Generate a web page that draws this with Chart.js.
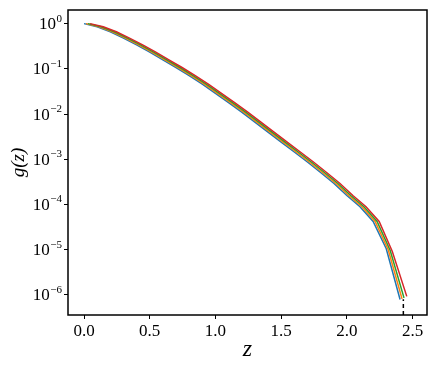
<!DOCTYPE html>
<html>
<head>
<meta charset="utf-8">
<script src="https://cdn.jsdelivr.net/npm/chart.js@4/dist/chart.umd.min.js"></script>
<style>
  html, body { margin: 0; padding: 0; background: #fff; }
  #wrap { width: 436px; height: 368px; }
</style>
</head>
<body>
<div id="wrap"><canvas id="chart" width="436" height="368"></canvas></div>
<script>
// z positions of each run
const zBlue   = [0.0, 0.1, 0.2, 0.3, 0.4, 0.5, 0.6, 0.7, 0.8, 0.9, 1.0, 1.1, 1.2, 1.3, 1.4, 1.5, 1.6, 1.7, 1.8, 1.9, 2.0, 2.1, 2.2, 2.3, 2.405];
const zOrange = [0.015, 0.115, 0.215, 0.315, 0.415, 0.515, 0.615, 0.715, 0.815, 0.915, 1.015, 1.115, 1.215, 1.315, 1.415, 1.515, 1.615, 1.715, 1.815, 1.915, 2.015, 2.115, 2.215, 2.315, 2.42];
const zGreen  = [0.03, 0.13, 0.23, 0.33, 0.43, 0.53, 0.63, 0.73, 0.83, 0.93, 1.03, 1.13, 1.23, 1.33, 1.43, 1.53, 1.63, 1.73, 1.83, 1.93, 2.03, 2.13, 2.23, 2.33, 2.435];
const zRed    = [0.046, 0.146, 0.246, 0.346, 0.446, 0.546, 0.646, 0.746, 0.846, 0.946, 1.046, 1.146, 1.246, 1.346, 1.446, 1.546, 1.646, 1.746, 1.846, 1.946, 2.046, 2.146, 2.246, 2.346, 2.456];

// g(z) values
const gBlue   = [1.0, 0.851, 0.661, 0.479, 0.339, 0.234, 0.158, 0.107, 0.0708, 0.0457, 0.0288, 0.0178, 0.0110, 6.6e-3, 3.98e-3, 2.4e-3, 1.45e-3, 8.7e-4, 5.1e-4, 2.95e-4, 1.58e-4, 8.9e-5, 4.2e-5, 1.05e-5, 7.9e-7];
const gOrange = [1.0, 0.851, 0.661, 0.479, 0.339, 0.234, 0.158, 0.107, 0.0708, 0.0457, 0.0288, 0.0178, 0.0110, 6.6e-3, 3.98e-3, 2.4e-3, 1.45e-3, 8.7e-4, 5.1e-4, 2.95e-4, 1.58e-4, 8.9e-5, 4.2e-5, 1.0e-5, 8.2e-7];
const gGreen  = [1.0, 0.851, 0.661, 0.479, 0.339, 0.234, 0.158, 0.107, 0.0708, 0.0457, 0.0288, 0.0178, 0.0110, 6.6e-3, 3.98e-3, 2.4e-3, 1.45e-3, 8.7e-4, 5.1e-4, 2.95e-4, 1.58e-4, 8.9e-5, 4.2e-5, 9.6e-6, 8.6e-7];
const gRed    = [1.0, 0.851, 0.661, 0.479, 0.339, 0.234, 0.158, 0.107, 0.0708, 0.0457, 0.0288, 0.0178, 0.0110, 6.6e-3, 3.98e-3, 2.4e-3, 1.45e-3, 8.7e-4, 5.1e-4, 2.95e-4, 1.58e-4, 8.9e-5, 4.2e-5, 9.1e-6, 9.3e-7];

// dashed cutoff marker
const zCut = [2.43, 2.43];
const gCut = [3.6e-7, 8.0e-7];

const xTicks = [0.0, 0.5, 1.0, 1.5, 2.0, 2.5];
const yTicks = [1e-6, 1e-5, 1e-4, 1e-3, 1e-2, 1e-1, 1e0];
const yTickExp = ['−6', '−5', '−4', '−3', '−2', '−1', '0'];

const pts = (xs, ys) => xs.map((x, i) => ({ x: x, y: ys[i] }));

const serif = "'Liberation Serif', 'DejaVu Serif', serif";

// black box round the plot area
const frame = {
    id: 'frame',
    afterDraw(chart) {
        const a = chart.chartArea;
        const c = chart.ctx;
        c.save();
        c.strokeStyle = '#000';
        c.lineWidth = 1.5;
        c.strokeRect(a.left, a.top, a.right - a.left, a.bottom - a.top);
        c.restore();
    }
};

// y tick labels as 10 with a raised exponent
const powLabels = {
    id: 'powLabels',
    afterDraw(chart) {
        const y = chart.scales.y;
        const c = chart.ctx;
        const right = chart.chartArea.left - 6;
        c.save();
        c.fillStyle = '#000';
        yTicks.forEach((v, i) => {
            const py = y.getPixelForValue(v);
            c.font = '11px ' + serif;
            c.textAlign = 'right';
            c.textBaseline = 'alphabetic';
            const w = c.measureText(yTickExp[i]).width;
            c.fillText(yTickExp[i], right, py - 2);
            c.font = '17px ' + serif;
            c.textBaseline = 'middle';
            c.fillText('10', right - w - 0.5, py + 1);
        });
        c.restore();
    }
};

function line(data, color, order) {
    return {
        data: data,
        borderColor: color,
        borderWidth: 1.5,
        pointRadius: 0,
        fill: false,
        tension: 0,
        order: order
    };
}

new Chart(document.getElementById('chart'), {
    type: 'scatter',
    data: {
        datasets: [
            line(pts(zBlue, gBlue), '#1f77b4', 4),
            line(pts(zOrange, gOrange), '#ff7f0e', 3),
            line(pts(zGreen, gGreen), '#2ca02c', 2),
            line(pts(zRed, gRed), '#d62728', 1),
            {
                data: pts(zCut, gCut),
                borderColor: '#000',
                borderWidth: 1.5,
                borderDash: [4, 3],
                pointRadius: 0,
                order: 0
            }
        ]
    },
    options: {
        responsive: false,
        animation: false,
        showLine: true,
        layout: { padding: { left: 8, top: 10, right: 9, bottom: 4 } },
        plugins: {
            legend: { display: false },
            tooltip: { enabled: false }
        },
        scales: {
            x: {
                type: 'linear',
                min: -0.122,
                max: 2.61,
                afterFit: s => { s.height = 49; },
                afterBuildTicks: s => { s.ticks = xTicks.map(v => ({ value: v })); },
                ticks: {
                    color: '#000',
                    font: { family: serif, size: 17 },
                    padding: 2,
                    callback: v => v.toFixed(1)
                },
                grid: { drawOnChartArea: false, drawTicks: true, tickLength: 4, color: '#000' },
                border: { display: false },
                title: {
                    display: true,
                    text: 'z',
                    color: '#000',
                    font: { family: serif, size: 24, style: 'italic' },
                    padding: { top: 0, bottom: 0 }
                }
            },
            y: {
                type: 'logarithmic',
                min: 3.6e-7,
                max: 2.0,
                afterFit: s => { s.width = 60; },
                afterBuildTicks: s => { s.ticks = yTicks.map(v => ({ value: v })); },
                ticks: {
                    display: false
                },
                grid: { drawOnChartArea: false, drawTicks: true, tickLength: 4, color: '#000' },
                border: { display: false },
                title: {
                    display: true,
                    text: 'g(z)',
                    color: '#000',
                    font: { family: serif, size: 19, style: 'italic' },
                    padding: { top: 0, bottom: 0 }
                }
            }
        }
    },
    plugins: [frame, powLabels]
});
</script>
</body>
</html>
